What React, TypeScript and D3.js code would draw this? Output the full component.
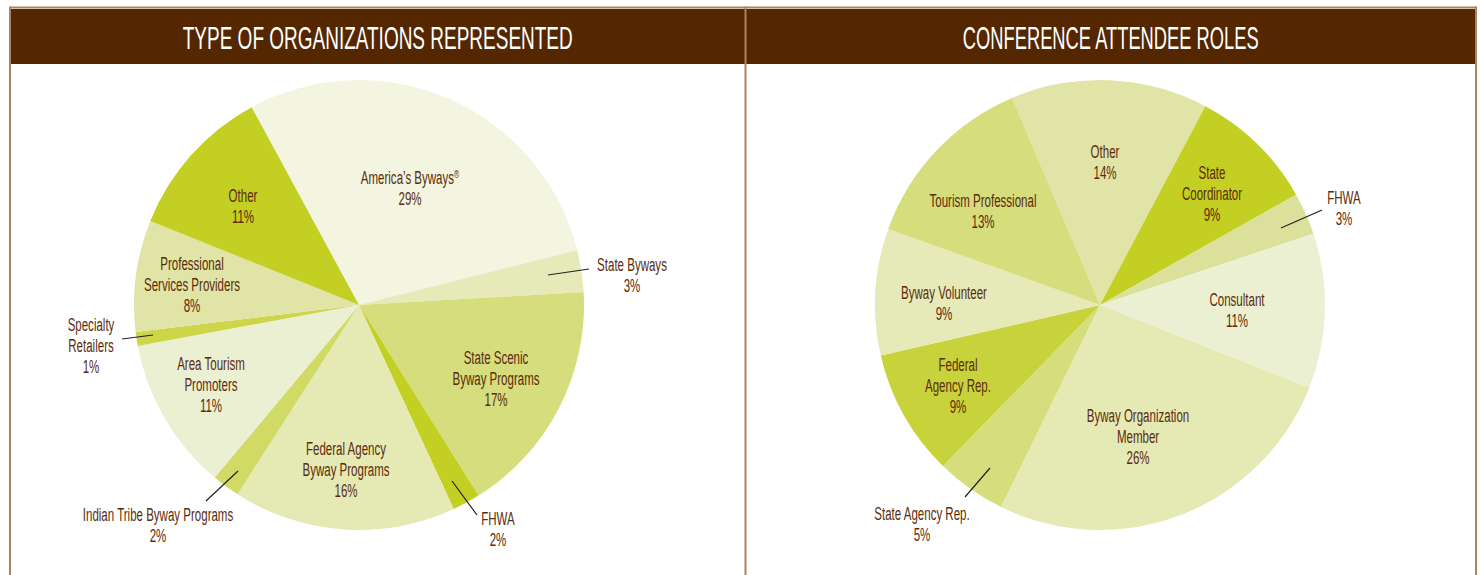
import React from "react";
import * as d3 from "d3";

// ---------- DATA ----------
const orgCategories = [
  "America’s Byways",
  "State Byways",
  "State Scenic Byway Programs",
  "FHWA",
  "Federal Agency Byway Programs",
  "Indian Tribe Byway Programs",
  "Area Tourism Promoters",
  "Specialty Retailers",
  "Professional Services Providers",
  "Other",
];
const orgValues = [29, 3, 17, 2, 16, 2, 11, 1, 8, 11];

const roleCategories = [
  "Other",
  "State Coordinator",
  "FHWA",
  "Consultant",
  "Byway Organization Member",
  "State Agency Rep.",
  "Federal Agency Rep.",
  "Byway Volunteer",
  "Tourism Professional",
];
const roleValues = [14, 9, 3, 11, 26, 5, 9, 9, 13];

const titles = ["TYPE OF ORGANIZATIONS REPRESENTED", "CONFERENCE ATTENDEE ROLES"];

// ---------- STYLE / LAYOUT ----------
const orgColors = [
  "#f3f5e0", "#e6eab8", "#d6dd7c", "#c3cf22", "#e5e9b4",
  "#d2da66", "#ecf0d2", "#cdd548", "#e0e4a6", "#c3cf22",
];
const roleColors = [
  "#e0e4a6", "#c3cf22", "#dbe09a", "#ecf0d2", "#e5e9b4",
  "#d6dd7c", "#c8d23a", "#e6eab8", "#d6dd7c",
];

// label text lines (display) per slice
const orgLabelLines = [
  ["America’s Byways®"],
  ["State Byways"],
  ["State Scenic", "Byway Programs"],
  ["FHWA"],
  ["Federal Agency", "Byway Programs"],
  ["Indian Tribe Byway Programs"],
  ["Area Tourism", "Promoters"],
  ["Specialty", "Retailers"],
  ["Professional", "Services Providers"],
  ["Other"],
];
const roleLabelLines = [
  ["Other"],
  ["State", "Coordinator"],
  ["FHWA"],
  ["Consultant"],
  ["Byway Organization", "Member"],
  ["State Agency Rep."],
  ["Federal", "Agency Rep."],
  ["Byway Volunteer"],
  ["Tourism Professional"],
];
// label first-line centre offsets relative to pie centre
const orgLabelPos: [number, number][] = [
  [51, -128], [273, -41], [137, 52], [139, 213], [-13, 143],
  [-201, 209], [-148, 58], [-268, 19], [-167, -42], [-116, -110],
];
const orgLeaders: ([number, number, number, number] | null)[] = [
  null, [189, -30, 230, -36], null, [93, 176, 118, 210], null,
  [-121, 166, -153, 196], null, [-206, 30, -237, 34], null, null,
];
const roleLabelPos: [number, number][] = [
  [5, -154], [112, -133], [244, -108], [137, -6], [38, 110],
  [-178, 208], [-142, 59], [-156, -13], [-117, -105],
];
const roleLeaders: ([number, number, number, number] | null)[] = [
  null, null, [181, -77, 222, -95], null, null,
  [-110, 163, -135, 192], null, null, null,
];

const W = 1481;
const H = 575;
const BROWN = "#552700";
const TAN = "#a98463";
const TEXT = "#5b2c0c";
const FONT = "'Liberation Sans', Arial, sans-serif";
const LINE_H = 21;
const SX = 0.64;

function Label({ x, y, lines, pct }: { x: number; y: number; lines: string[]; pct: number }) {
  const all = [...lines, `${pct}%`];
  return (
    <g>
      {all.map((ln, i) => {
        const reg = ln.endsWith("®");
        const base = reg ? ln.slice(0, -1) : ln;
        return (
          <text
            key={i}
            transform={`translate(${x},${y + i * LINE_H + 6.5}) scale(${SX},1)`}
            textAnchor="middle"
            fontFamily={FONT}
            fontSize={18}
            fill={TEXT}
          >
            {base}
            {reg && (
              <tspan fontSize={11} dy={-6}>
                ®
              </tspan>
            )}
          </text>
        );
      })}
    </g>
  );
}

function Pie({
  cx, cy, r, values, colors, start, lines, pos, leaders,
}: {
  cx: number; cy: number; r: number; values: number[]; colors: string[]; start: number;
  lines: string[][]; pos: [number, number][]; leaders: ([number, number, number, number] | null)[];
}) {
  const pie = d3
    .pie<number>()
    .sort(null)
    .value((d) => d)
    .startAngle((start * Math.PI) / 180)
    .endAngle((start * Math.PI) / 180 + 2 * Math.PI);
  const arcs = pie(values);
  const arc = d3.arc<d3.PieArcDatum<number>>().innerRadius(0).outerRadius(r);
  return (
    <g transform={`translate(${cx},${cy})`}>
      {arcs.map((a, i) => (
        <path key={i} d={arc(a) || ""} fill={colors[i]} />
      ))}
      {leaders.map((l, i) =>
        l ? <line key={`l${i}`} x1={l[0]} y1={l[1]} x2={l[2]} y2={l[3]} stroke="#222" strokeWidth={1.2} /> : null
      )}
      {arcs.map((a, i) => (
        <Label key={`t${i}`} x={pos[i][0]} y={pos[i][1]} lines={lines[i]} pct={values[i]} />
      ))}
    </g>
  );
}

export default function App() {
  const left = 10;
  const mid = 745.5;
  const right = 1476;
  const headTop = 9;
  const headBot = 64;
  return (
    <svg width={W} height={H} style={{ position: "absolute", left: 0, top: 0 }}>
      <rect x={0} y={0} width={W} height={H} fill="#fff" />
      {/* header bars */}
      <rect x={left} y={headTop} width={right - left} height={headBot - headTop} fill={BROWN} />
      {/* frame lines */}
      <line x1={left} y1={7.5} x2={right + 1} y2={7.5} stroke={TAN} strokeWidth={2} />
      <line x1={left} y1={6.5} x2={left} y2={H} stroke={TAN} strokeWidth={2} />
      <line x1={mid} y1={6.5} x2={mid} y2={H} stroke={TAN} strokeWidth={2} />
      <line x1={right} y1={6.5} x2={right} y2={H} stroke={TAN} strokeWidth={2} />
      <text
        x={(left + mid) / 2}
        y={49}
        textAnchor="middle"
        fontFamily={FONT}
        fontSize={31}
        fill="#fff"
        textLength={390}
        lengthAdjust="spacingAndGlyphs"
      >
        {titles[0]}
      </text>
      <text
        x={(mid + right) / 2}
        y={49}
        textAnchor="middle"
        fontFamily={FONT}
        fontSize={31}
        fill="#fff"
        textLength={296}
        lengthAdjust="spacingAndGlyphs"
      >
        {titles[1]}
      </text>
      <Pie
        cx={359}
        cy={305}
        r={225}
        values={orgValues}
        colors={orgColors}
        start={-28.5}
        lines={orgLabelLines}
        pos={orgLabelPos}
        leaders={orgLeaders}
      />
      <Pie
        cx={1100}
        cy={305}
        r={225}
        values={roleValues}
        colors={roleColors}
        start={-23}
        lines={roleLabelLines}
        pos={roleLabelPos}
        leaders={roleLeaders}
      />
    </svg>
  );
}
